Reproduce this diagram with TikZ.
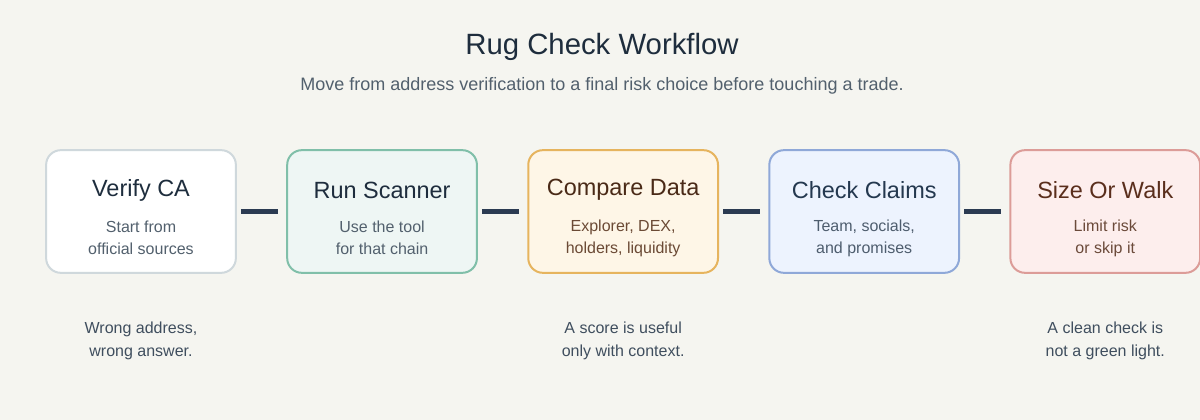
\documentclass[tikz,border=0pt]{standalone}
\usepackage{fontspec}
\setmainfont{Liberation Sans}
\usetikzlibrary{positioning}

\definecolor{pagebg}{HTML}{F5F5F0}
\definecolor{inkdark}{HTML}{1E2D3D}
\definecolor{inksoft}{HTML}{52606D}
\definecolor{notegray}{HTML}{3F4E5E}
\definecolor{linknavy}{HTML}{2B3B52}
\definecolor{verifyfill}{HTML}{FFFFFF}
\definecolor{verifyline}{HTML}{CFD8DC}
\definecolor{scanfill}{HTML}{EEF6F4}
\definecolor{scanline}{HTML}{80BFA9}
\definecolor{datafill}{HTML}{FEF6E7}
\definecolor{dataline}{HTML}{E6B45E}
\definecolor{datatitle}{HTML}{4A2A17}
\definecolor{datasub}{HTML}{6B4A35}
\definecolor{claimfill}{HTML}{EDF3FE}
\definecolor{claimline}{HTML}{8FA8D8}
\definecolor{claimtitle}{HTML}{24384F}
\definecolor{claimsub}{HTML}{4E5D6E}
\definecolor{walkfill}{HTML}{FDEEED}
\definecolor{walkline}{HTML}{DC9C98}
\definecolor{walktitle}{HTML}{5A2E1C}
\definecolor{walksub}{HTML}{6B4A3A}

\tikzset{
  stagebox/.style={draw, line width=1.5pt, rounded corners=11pt,
    minimum width=142.3pt, minimum height=92pt, inner sep=0pt},
  stagetitle/.style={font=\fontsize{17.6}{20}\selectfont},
  stagesub/.style={font=\fontsize{12}{16.5}\selectfont, align=center},
  sidenote/.style={font=\fontsize{12}{17.25}\selectfont, align=center, text=notegray},
  link/.style={line width=3.4pt, draw=linknavy, shorten <=3pt, shorten >=6pt},
}

\begin{document}
\begin{tikzpicture}[x=0.75pt, y=-0.75pt, node distance=37pt]
    \fill[pagebg] (0,0) rectangle (1200,420);
    \useasboundingbox (0,0) rectangle (1200,420);

    % heading
    \node[font=\fontsize{22}{26}\selectfont, text=inkdark] (title) at (602,46.5) {Rug Check Workflow};
    \node[font=\fontsize{13.5}{16}\selectfont, text=inksoft] (subtitle) at (602,86)
        {Move from address verification to a final risk choice before touching a trade.};

    % stages
    \node[stagebox, fill=verifyfill, draw=verifyline] (verify) at (141,211.5) {};
    \node[stagebox, fill=scanfill, draw=scanline, right=of verify] (scanner) {};
    \node[stagebox, fill=datafill, draw=dataline, right=of scanner] (data) {};
    \node[stagebox, fill=claimfill, draw=claimline, right=of data] (claims) {};
    \node[stagebox, fill=walkfill, draw=walkline, right=of claims] (walk) {};

    \node[stagetitle, text=inkdark] (verifyT) at ([yshift=16pt]verify.center) {Verify CA};
    \node[stagesub, text=inksoft] (verifyS) at ([yshift=-19.8pt]verify.center) {Start from\\official sources};
    \node[stagetitle, text=inkdark] (scannerT) at ([yshift=16pt]scanner.center) {Run Scanner};
    \node[stagesub, text=inksoft] (scannerS) at ([yshift=-19.8pt]scanner.center) {Use the tool\\for that chain};
    \node[stagetitle, text=datatitle] (dataT) at ([yshift=16pt]data.center) {Compare Data};
    \node[stagesub, text=datasub] (dataS) at ([yshift=-19.8pt]data.center) {Explorer, DEX,\\holders, liquidity};
    \node[stagetitle, text=claimtitle] (claimsT) at ([yshift=16pt]claims.center) {Check Claims};
    \node[stagesub, text=claimsub] (claimsS) at ([yshift=-19.8pt]claims.center) {Team, socials,\\and promises};
    \node[stagetitle, text=walktitle] (walkT) at ([yshift=16pt]walk.center) {Size Or Walk};
    \node[stagesub, text=walksub] (walkS) at ([yshift=-19.8pt]walk.center) {Limit risk\\or skip it};

    % links
    \draw[link] (verify) -- (scanner);
    \draw[link] (scanner) -- (data);
    \draw[link] (data) -- (claims);
    \draw[link] (claims) -- (walk);

    % notes under the boxes
    \node[sidenote] (verifyN) at ([yshift=-50.2pt]verify.south) {Wrong address,\\wrong answer.};
    \node[sidenote] (dataN) at ([yshift=-50.2pt]data.south) {A score is useful\\only with context.};
    \node[sidenote] (walkN) at ([yshift=-50.2pt]walk.south) {A clean check is\\not a green light.};
\end{tikzpicture}
\end{document}
